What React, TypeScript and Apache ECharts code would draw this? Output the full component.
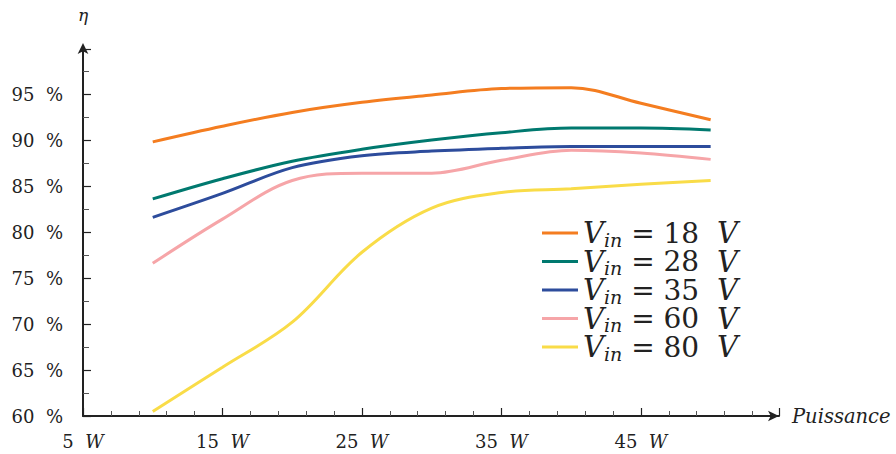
import React, { useEffect, useRef } from "react";
import * as echarts from "echarts";

const power = [10, 15, 20, 25, 30, 35, 40, 45, 50];
const seriesNames = ["18", "28", "35", "60", "80"];
const eff18 = [89.8, 91.5, 93.0, 94.1, 94.9, 95.6, 95.7, 94.0, 92.2];
const eff28 = [83.6, 85.8, 87.7, 89.0, 90.0, 90.8, 91.3, 91.3, 91.1];
const eff35 = [81.6, 84.2, 87.0, 88.3, 88.8, 89.1, 89.3, 89.3, 89.3];
const eff60 = [76.6, 81.4, 85.6, 86.4, 86.4, 87.8, 88.9, 88.6, 87.9];
const eff80 = [60.5, 65.3, 70.2, 77.8, 82.6, 84.3, 84.7, 85.2, 85.6];
const colors = ["#f47d20", "#00796f", "#2d4c9c", "#f6a5a8", "#f9dc48"];
const xTickLabels = [5, 15, 25, 35, 45];
const yTickLabels = [60, 65, 70, 75, 80, 85, 90, 95];

const FONT = "DejaVu Serif";

export default function App() {
  const ref = useRef<HTMLDivElement>(null);
  useEffect(() => {
    if (!ref.current) return;
    const chart = echarts.init(ref.current, null, { renderer: "svg" });
    const allData = [eff18, eff28, eff35, eff60, eff80];
    const axisColor = "#222";
    chart.setOption({
      animation: false,
      backgroundColor: "#fff",
      textStyle: { fontFamily: FONT },
      grid: { left: 83, right: 117, top: 49, bottom: 38 },
      xAxis: {
        type: "value",
        min: 5,
        max: 54.9,
        interval: 10,
        name: "Puissance",
        nameLocation: "end",
        nameGap: 13,
        nameTextStyle: { fontFamily: FONT, fontStyle: "italic", fontSize: 19.5, color: "#222" },
        axisLine: { lineStyle: { color: axisColor, width: 2 }, symbol: ["none", "arrow"], symbolSize: [8, 11], symbolOffset: [0, 0] },
        axisTick: { inside: true, length: 8, lineStyle: { color: axisColor, width: 1.2 } },
        minorTick: { show: true, splitNumber: 5, length: 5, lineStyle: { color: "#555", width: 1 } },
        splitLine: { show: false },
        axisLabel: {
          margin: 16,
          showMaxLabel: false,
          formatter: (v: number) => (xTickLabels.includes(Math.round(v * 100) / 100) ? `{n|${v}}  {w|W}` : ""),
          rich: {
            n: { fontFamily: FONT, fontSize: 18, color: "#222" },
            w: { fontFamily: FONT, fontSize: 18, fontStyle: "italic", color: "#222" },
          },
          fontFamily: FONT,
          fontSize: 18,
          color: "#222",
        },
      },
      yAxis: {
        type: "value",
        min: 60,
        max: 99.9,
        interval: 5,
        name: "η",
        nameLocation: "end",
        nameGap: 26,
        nameTextStyle: { fontFamily: FONT, fontStyle: "italic", fontSize: 17, color: "#222" },
        axisLine: { lineStyle: { color: axisColor, width: 2 }, symbol: ["none", "arrow"], symbolSize: [8, 11], symbolOffset: [0, 6] },
        axisTick: { inside: true, length: 8, lineStyle: { color: axisColor, width: 1.2 } },
        minorTick: { show: true, splitNumber: 2, length: 6, lineStyle: { color: "#555", width: 1 } },
        splitLine: { show: false },
        axisLabel: {
          margin: 20,
          showMaxLabel: false,
          formatter: (v: number) => (yTickLabels.includes(Math.round(v * 100) / 100) ? `${v}  %` : ""),
          fontFamily: FONT,
          fontSize: 18,
          color: "#222",
        },
      },
      legend: {
        orient: "vertical",
        left: 537,
        top: 212,
        icon: "rect",
        itemWidth: 36,
        itemHeight: 3,
        itemGap: -3.5,
        data: seriesNames,
        formatter: (name: string) => `{v|V}{s|in}{e| = ${name}  }{v|V}`,
        textStyle: {
          padding: [0, 0, 0, 0],
          rich: {
            v: { fontFamily: FONT, fontSize: 29, fontStyle: "italic", color: "#222", lineHeight: 22 },
            s: { fontFamily: FONT, fontSize: 19, fontStyle: "italic", color: "#222", lineHeight: 10, padding: [13, 0, 0, 0] },
            e: { fontFamily: FONT, fontSize: 28, color: "#222", lineHeight: 22 },
          },
        },
      },
      series: seriesNames.map((name, i) => ({
        name,
        type: "line",
        smooth: 0.35,
        showSymbol: false,
        symbol: "none",
        color: colors[i],
        lineStyle: { width: 3, color: colors[i] },
        data: power.map((p, j) => [p, allData[i][j]]),
      })),
    });
    return () => chart.dispose();
  }, []);
  return <div ref={ref} style={{ position: "fixed", left: 0, top: 0, width: 896, height: 454 }} />;
}
